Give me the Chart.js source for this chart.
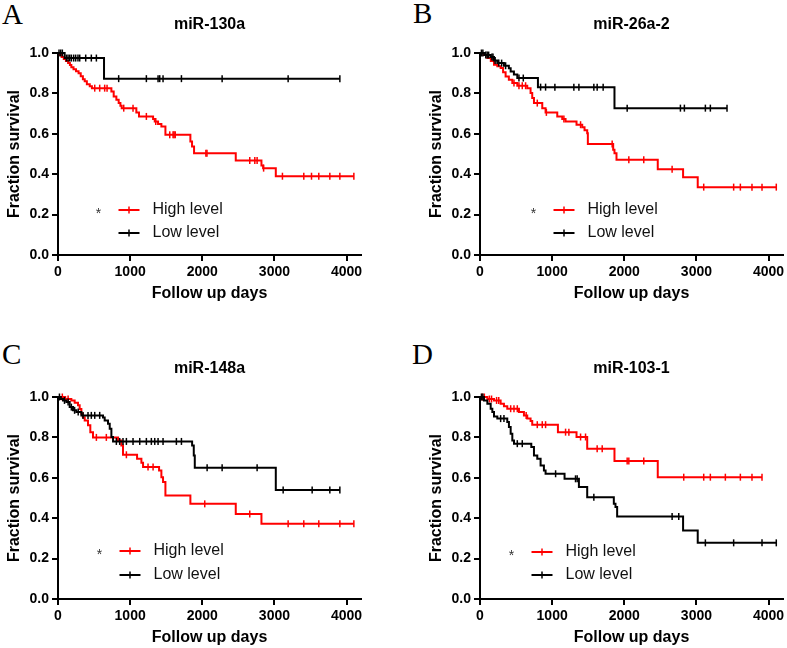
<!DOCTYPE html>
<html>
<head>
<meta charset="utf-8">
<script src="https://cdn.jsdelivr.net/npm/chart.js@4.4.0/dist/chart.umd.min.js"></script>
<style>
  html, body { margin: 0; padding: 0; background: #fff; overflow: hidden; }
  body { width: 787px; height: 648px; position: relative; }
  canvas { position: absolute; }
  .letter { position: absolute; font-family: "Liberation Serif", "Times New Roman", serif; font-size: 29px; line-height: 29px; color: #000; }
</style>
</head>
<body>
<div class="letter" style="left:2px;top:0px">A</div>
<div class="letter" style="left:413px;top:-1px">B</div>
<div class="letter" style="left:2px;top:340px">C</div>
<div class="letter" style="left:412px;top:340px">D</div>
<canvas id="chartA" width="394" height="304" style="left:0px;top:0px"></canvas>
<canvas id="chartB" width="394" height="304" style="left:422px;top:0px"></canvas>
<canvas id="chartC" width="394" height="304" style="left:0px;top:344px"></canvas>
<canvas id="chartD" width="394" height="304" style="left:422px;top:344px"></canvas>
<script>
// Kaplan-Meier data: event days, survival after each event, censored days
const panelTitles = ['miR-130a', 'miR-26a-2', 'miR-148a', 'miR-103-1'];
const groupLabels = ['Low level', 'High level'];
const xTicks = [0, 1000, 2000, 3000, 4000];
const yTickLabels = ['0.0', '0.2', '0.4', '0.6', '0.8', '1.0'];

// A - miR-130a
const aHighT = [0, 25, 50, 80, 110, 140, 165, 185, 215, 250, 285, 315, 345, 370, 400, 440, 470, 740, 772, 809, 841, 865, 883, 1086, 1123, 1318, 1341, 1387, 1433, 1489, 1835, 1858, 1886, 2464, 2820, 2843, 3019];
const aHighS = [1.0, 0.99, 0.98, 0.97, 0.96, 0.95, 0.94, 0.93, 0.92, 0.91, 0.90, 0.885, 0.87, 0.86, 0.845, 0.835, 0.826, 0.81, 0.785, 0.769, 0.752, 0.739, 0.727, 0.706, 0.686, 0.673, 0.661, 0.648, 0.636, 0.595, 0.562, 0.537, 0.504, 0.468, 0.443, 0.43, 0.39];
const aHighC = [509, 578, 647, 680, 911, 1040, 1225, 1355, 1549, 1595, 1609, 1625, 2050, 2065, 2658, 2728, 2760, 2850, 3111, 3407, 3514, 3615, 3768, 3907, 4101];
const aLowT = [0, 92, 638];
const aLowS = [1.0, 0.975, 0.873];
const aLowC = [14, 37, 60, 116, 139, 162, 185, 217, 245, 277, 301, 384, 462, 532, 841, 1225, 1387, 1410, 1456, 1711, 2275, 3190, 3907];

// B - miR-26a-2
const bHighT = [0, 50, 102, 150, 194, 240, 286, 320, 355, 400, 448, 517, 655, 701, 724, 748, 863, 909, 1071, 1140, 1186, 1338, 1417, 1449, 1486, 1495, 1846, 1864, 1892, 2464, 2815, 3018];
const bHighS = [1.0, 0.99, 0.975, 0.96, 0.942, 0.934, 0.926, 0.905, 0.884, 0.867, 0.851, 0.838, 0.826, 0.802, 0.777, 0.752, 0.727, 0.706, 0.686, 0.673, 0.661, 0.645, 0.633, 0.617, 0.603, 0.55, 0.521, 0.504, 0.471, 0.425, 0.385, 0.336];
const bHighC = [471, 540, 586, 632, 794, 920, 1163, 1394, 1832, 2063, 2270, 2663, 3101, 3516, 3609, 3770, 3909, 4107];
const bLowT = [0, 60, 148, 194, 240, 332, 400, 425, 470, 517, 803, 1864];
const bLowS = [1.0, 0.99, 0.98, 0.963, 0.95, 0.937, 0.925, 0.909, 0.893, 0.876, 0.831, 0.727];
const bLowC = [20, 40, 80, 100, 120, 165, 180, 210, 260, 300, 355, 540, 600, 840, 909, 1038, 1301, 1371, 1578, 1624, 1707, 2040, 2778, 2833, 3124, 3193, 3424];

// C - miR-148a
const cHighT = [0, 100, 185, 231, 277, 300, 324, 345, 370, 416, 448, 485, 832, 878, 901, 1096, 1156, 1179, 1401, 1433, 1456, 1489, 1835, 2464, 2820];
const cHighS = [1.0, 0.99, 0.983, 0.971, 0.959, 0.94, 0.917, 0.9, 0.884, 0.86, 0.826, 0.80, 0.785, 0.76, 0.714, 0.694, 0.674, 0.653, 0.636, 0.603, 0.579, 0.512, 0.471, 0.421, 0.372];
const cHighC = [60, 140, 532, 670, 948, 1248, 1318, 2034, 2658, 3190, 3407, 3615, 3907, 4101];
const cLowT = [0, 40, 69, 116, 162, 208, 254, 324, 624, 647, 693, 717, 740, 763, 1859, 1882, 1896, 3019];
const cLowS = [1.0, 0.99, 0.983, 0.975, 0.95, 0.934, 0.926, 0.909, 0.898, 0.884, 0.868, 0.843, 0.802, 0.78, 0.76, 0.711, 0.65, 0.54];
const cLowC = [20, 90, 140, 185, 230, 280, 347, 416, 462, 509, 578, 809, 855, 901, 948, 1040, 1133, 1225, 1294, 1341, 1387, 1456, 1641, 1711, 2067, 2275, 2760, 3121, 3523, 3768, 3907];

// D - miR-103-1
const dHighT = [0, 102, 194, 286, 332, 378, 540, 609, 655, 701, 724, 1080, 1338, 1486, 1864, 2464];
const dHighS = [1.0, 0.99, 0.983, 0.967, 0.954, 0.942, 0.926, 0.909, 0.893, 0.881, 0.863, 0.826, 0.802, 0.744, 0.683, 0.603];
const dHighC = [30, 60, 130, 160, 230, 260, 425, 471, 517, 640, 794, 863, 909, 1186, 1232, 1394, 1463, 1624, 1694, 2040, 2063, 2270, 2824, 3101, 3193, 3401, 3609, 3770, 3909];
const dLowT = [0, 55, 102, 148, 171, 194, 240, 378, 401, 425, 448, 471, 711, 748, 794, 840, 886, 909, 1172, 1371, 1486, 1855, 1878, 1901, 2815, 3018];
const dLowS = [1.0, 0.983, 0.967, 0.942, 0.926, 0.904, 0.893, 0.876, 0.851, 0.818, 0.785, 0.769, 0.752, 0.711, 0.694, 0.661, 0.636, 0.62, 0.595, 0.554, 0.504, 0.471, 0.455, 0.408, 0.339, 0.278];
const dLowC = [20, 40, 286, 332, 517, 586, 1048, 1324, 1347, 1578, 2663, 2755, 3124, 3516, 3909, 4107];

const FONT = '"Liberation Sans", Arial, sans-serif';

// merge event steps and censor marks into one point list
function kmPoints(times, surv, censored) {
  const pts = times.map((t, i) => ({ x: t, y: surv[i], c: false }));
  censored.forEach(t => {
    let s = surv[0];
    for (let i = 0; i < times.length; i++) {
      if (times[i] <= t) s = surv[i];
    }
    pts.push({ x: t, y: s, c: true });
  });
  pts.sort((a, b) => a.x - b.x);
  return pts;
}

// title, star and legend drawn inside each panel
const kmExtras = {
  id: 'kmExtras',
  afterDraw(chart, args, opts) {
    const { ctx, chartArea } = chart;
    ctx.save();
    ctx.fillStyle = '#000';
    ctx.textAlign = 'center';
    ctx.textBaseline = 'middle';
    ctx.font = 'bold 16px ' + FONT;
    ctx.fillText(opts.title, (chartArea.left + chartArea.right) / 2, chartArea.top - 28);

    const x0 = chartArea.left + opts.legendX;
    const ds = chart.data.datasets.slice().reverse();
    ds.forEach((d, i) => {
      const y = chartArea.bottom + opts.legendY[i];
      ctx.strokeStyle = d.borderColor;
      ctx.lineWidth = 2;
      ctx.beginPath();
      ctx.moveTo(x0 + 20, y);
      ctx.lineTo(x0 + 41, y);
      ctx.stroke();
      ctx.lineWidth = 1.5;
      ctx.beginPath();
      ctx.moveTo(x0 + 30.5, y - 3.5);
      ctx.lineTo(x0 + 30.5, y + 3.5);
      ctx.stroke();
      ctx.fillStyle = '#111';
      ctx.textAlign = 'left';
      ctx.font = '16px ' + FONT;
      ctx.fillText(d.label, x0 + 54, y);
    });
    ctx.fillStyle = '#333';
    ctx.textAlign = 'center';
    ctx.textBaseline = 'alphabetic';
    ctx.font = '14px ' + FONT;
    ctx.fillText('*', x0, chartArea.bottom + opts.legendY[0] + 8);
    ctx.restore();
  }
};

function makeChart(id, title, low, high, legendX, legendY) {
  const ds = (label, pts, color) => ({
    label: label,
    data: pts,
    borderColor: color,
    backgroundColor: color,
    borderWidth: 2,
    stepped: true,
    fill: false,
    clip: 8,
    pointStyle: 'line',
    rotation: 90,
    pointBorderColor: color,
    pointBorderWidth: 1.5,
    pointRadius: ctx => (ctx.raw && ctx.raw.c ? 3.5 : 0),
    pointHoverRadius: 0
  });
  return new Chart(document.getElementById(id), {
    type: 'line',
    data: {
      datasets: [
        ds(groupLabels[0], low, '#000000'),
        ds(groupLabels[1], high, '#ff0000')
      ]
    },
    options: {
      responsive: false,
      animation: false,
      devicePixelRatio: 1,
      events: [],
      layout: { padding: { left: 0, top: 53, right: 33, bottom: 1 } },
      plugins: {
        legend: { display: false },
        tooltip: { enabled: false },
        kmExtras: { title: title, legendX: legendX, legendY: legendY }
      },
      scales: {
        x: {
          type: 'linear',
          min: 0,
          max: 4200,
          afterFit: s => { s.height = 48; },
          afterBuildTicks: s => { s.ticks = xTicks.map(v => ({ value: v })); },
          border: { color: '#000', width: 2 },
          grid: { drawOnChartArea: false, drawTicks: true, tickLength: 6, color: '#000', lineWidth: 2 },
          ticks: { color: '#000', padding: 3, maxRotation: 0, font: { family: FONT, size: 14, weight: 'bold' }, callback: (v, i) => String(xTicks[i]) },
          title: { display: true, text: 'Follow up days', color: '#000', padding: { top: 0, bottom: 0 }, font: { family: FONT, size: 16, weight: 'bold' } }
        },
        y: {
          min: 0,
          max: 1,
          afterFit: s => { s.width = 58; },
          afterBuildTicks: s => { s.ticks = yTickLabels.map(v => ({ value: parseFloat(v) })); },
          border: { color: '#000', width: 2 },
          grid: { drawOnChartArea: false, drawTicks: true, tickLength: 6, color: '#000', lineWidth: 2 },
          ticks: { color: '#000', padding: 3, font: { family: FONT, size: 14, weight: 'bold' }, callback: (v, i) => yTickLabels[i] },
          title: { display: true, text: 'Fraction survival', color: '#000', padding: { top: 5, bottom: 0 }, font: { family: FONT, size: 16, weight: 'bold' } }
        }
      }
    },
    plugins: [kmExtras]
  });
}

makeChart('chartA', panelTitles[0], kmPoints(aLowT, aLowS, aLowC), kmPoints(aHighT, aHighS, aHighC), 40.5, [-45, -22]);
makeChart('chartB', panelTitles[1], kmPoints(bLowT, bLowS, bLowC), kmPoints(bHighT, bHighS, bHighC), 53.5, [-45, -22]);
makeChart('chartC', panelTitles[2], kmPoints(cLowT, cLowS, cLowC), kmPoints(cHighT, cHighS, cHighC), 41.5, [-48, -24]);
makeChart('chartD', panelTitles[3], kmPoints(dLowT, dLowS, dLowC), kmPoints(dHighT, dHighS, dHighC), 31.5, [-47, -24]);
</script>
</body>
</html>
